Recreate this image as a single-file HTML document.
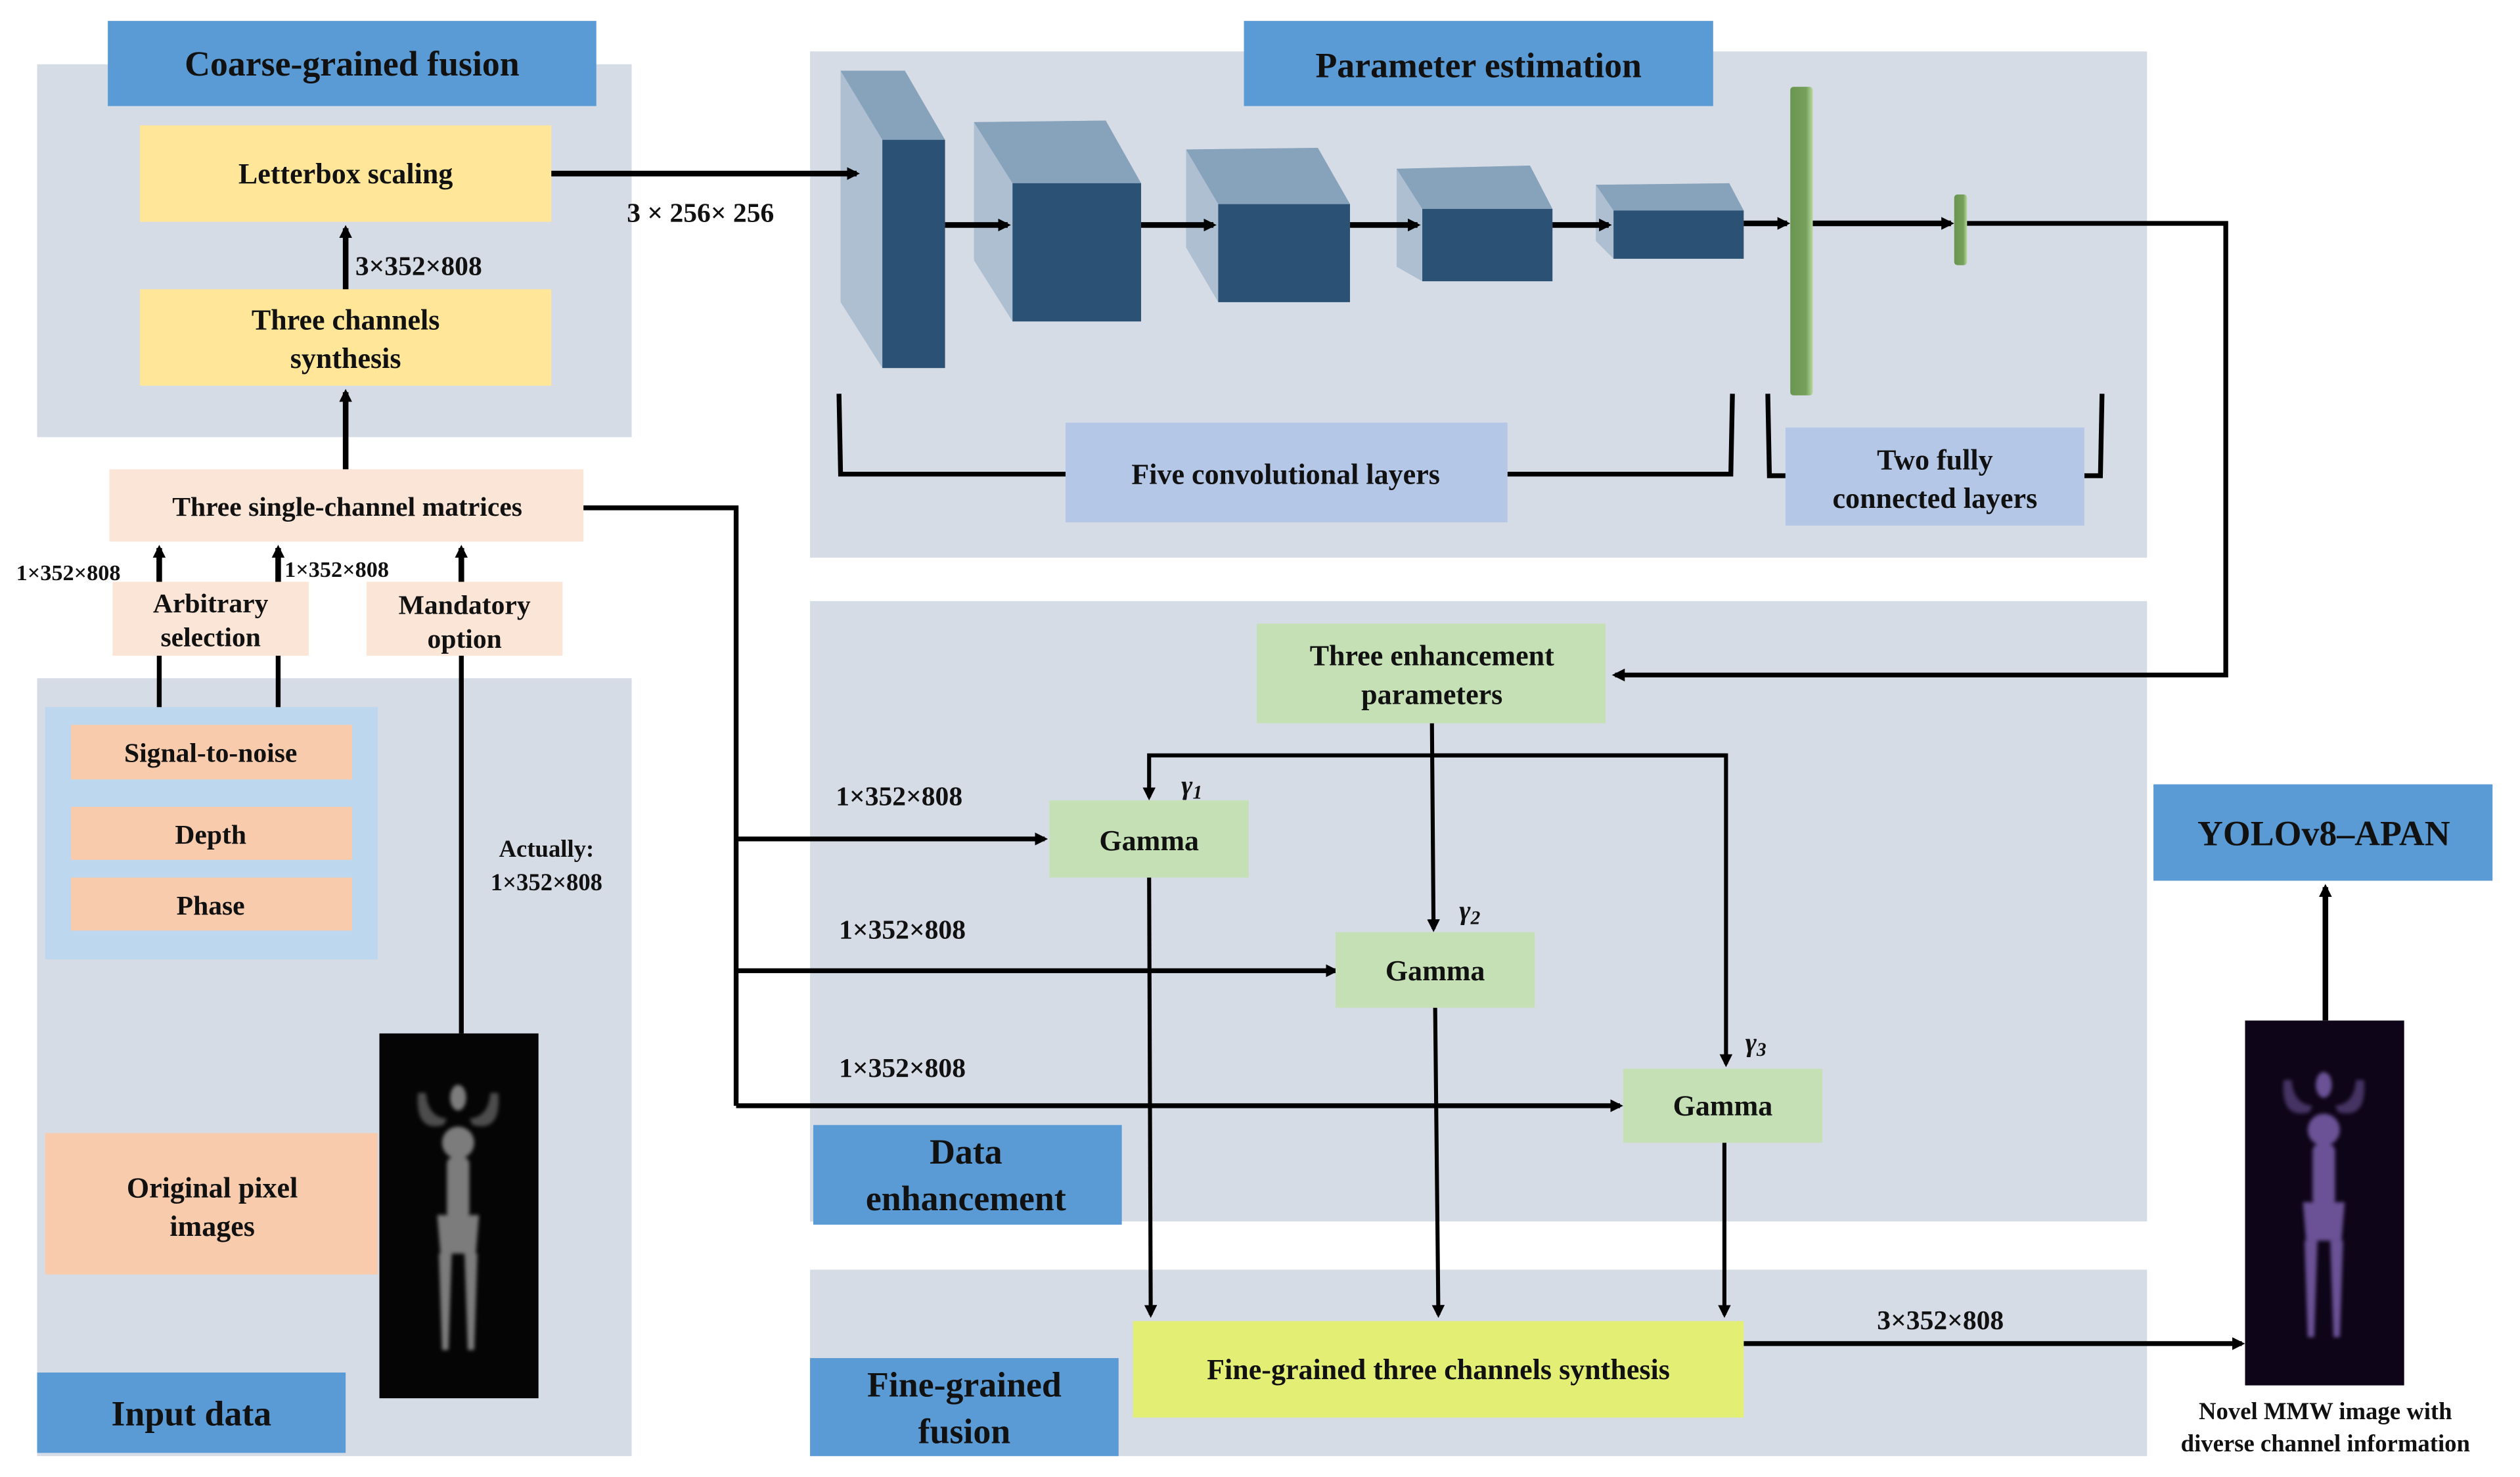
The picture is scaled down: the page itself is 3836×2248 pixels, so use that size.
<!DOCTYPE html>
<html><head><meta charset="utf-8"><style>
html,body{margin:0;padding:0;background:#fff;}
svg{display:block;}
text{font-family:"Liberation Serif",serif;font-weight:bold;fill:#111;}
</style></head><body>
<svg width="3836" height="2248" viewBox="0 0 1568 919" xmlns="http://www.w3.org/2000/svg">
<defs>
<marker id="a" markerWidth="8" markerHeight="8" refX="6" refY="4" orient="auto" markerUnits="userSpaceOnUse"><path d="M0,0 L8,4 L0,8 z" fill="#000"/></marker>
<linearGradient id="gb" x1="0" x2="1"><stop offset="0" stop-color="#6a9550"/><stop offset="0.7" stop-color="#76a05a"/><stop offset="1" stop-color="#b8d8a0"/></linearGradient>
<filter id="bl"><feGaussianBlur stdDeviation="1.2"/></filter>
</defs>
<rect width="1568" height="919" fill="#fff"/>
<!-- panels -->
<rect x="23" y="40" width="370" height="232" fill="#d6dce5"/>
<rect x="23" y="422" width="370" height="484" fill="#d6dce5"/>
<rect x="504" y="32" width="832" height="315" fill="#d6dce5"/>
<rect x="504" y="374" width="832" height="386" fill="#d6dce5"/>
<rect x="504" y="790" width="832" height="116" fill="#d6dce5"/>
<!-- headers -->
<rect x="67" y="13" width="304" height="53" fill="#5b9bd5"/>
<text x="219" y="47" font-size="22" text-anchor="middle">Coarse-grained fusion</text>
<rect x="774" y="13" width="292" height="53" fill="#5b9bd5"/>
<text x="920" y="48" font-size="22" text-anchor="middle">Parameter estimation</text>
<rect x="23" y="854" width="192" height="50" fill="#5b9bd5"/>
<text x="119" y="887" font-size="22" text-anchor="middle">Input data</text>
<rect x="506" y="700" width="192" height="62" fill="#5b9bd5"/>
<text x="601" y="724" font-size="22" text-anchor="middle">Data</text>
<text x="601" y="753" font-size="22" text-anchor="middle">enhancement</text>
<rect x="504" y="845" width="192" height="61" fill="#5b9bd5"/>
<text x="600" y="869" font-size="22" text-anchor="middle">Fine-grained</text>
<text x="600" y="898" font-size="22" text-anchor="middle">fusion</text>
<rect x="1340" y="488" width="211" height="60" fill="#5b9bd5"/>
<text x="1446" y="526" font-size="22" text-anchor="middle">YOLOv8–APAN</text>
<!-- coarse boxes -->
<rect x="87" y="78" width="256" height="60" fill="#ffe699"/>
<text x="215" y="114" font-size="18" text-anchor="middle">Letterbox scaling</text>
<rect x="87" y="180" width="256" height="60" fill="#ffe699"/>
<text x="215" y="205" font-size="18" text-anchor="middle">Three channels</text>
<text x="215" y="229" font-size="18" text-anchor="middle">synthesis</text>
<rect x="68" y="292" width="295" height="45" fill="#fbe5d6"/>
<text x="216" y="321" font-size="17" text-anchor="middle">Three single-channel matrices</text>
<rect x="70" y="362" width="122" height="46" fill="#fbe5d6"/>
<text x="131" y="381" font-size="17" text-anchor="middle">Arbitrary</text>
<text x="131" y="402" font-size="17" text-anchor="middle">selection</text>
<rect x="228" y="362" width="122" height="46" fill="#fbe5d6"/>
<text x="289" y="382" font-size="17" text-anchor="middle">Mandatory</text>
<text x="289" y="403" font-size="17" text-anchor="middle">option</text>
<rect x="28" y="440" width="207" height="157" fill="#bdd7ee"/>
<rect x="44" y="451" width="175" height="34" fill="#f8cbad"/>
<text x="131" y="474" font-size="17" text-anchor="middle">Signal-to-noise</text>
<rect x="44" y="502" width="175" height="33" fill="#f8cbad"/>
<text x="131" y="525" font-size="17" text-anchor="middle">Depth</text>
<rect x="44" y="546" width="175" height="33" fill="#f8cbad"/>
<text x="131" y="569" font-size="17" text-anchor="middle">Phase</text>
<rect x="28" y="705" width="207" height="88" fill="#f8cbad"/>
<text x="132" y="745" font-size="18" text-anchor="middle">Original pixel</text>
<text x="132" y="769" font-size="18" text-anchor="middle">images</text>
<!-- input figure -->
<rect x="236" y="643" width="99" height="227" fill="#050505"/>
<g fill="#9a9a9a" opacity="0.8" filter="url(#bl)">
<ellipse cx="285" cy="683" rx="5" ry="8"/>
<ellipse cx="285" cy="711" rx="10" ry="10"/>
<rect x="278" y="720" width="14" height="38" rx="4"/>
<path d="M272,756 L298,756 L296,780 L274,780 z"/>
<path d="M273,780 L281,780 L279,840 L275,840 z"/>
<path d="M289,780 L297,780 L295,840 L291,840 z"/>
<path d="M276,700 Q258,705 260,680 L265,680 Q266,695 278,696 z" opacity="0.6"/>
<path d="M294,700 Q312,705 310,680 L305,680 Q304,695 292,696 z" opacity="0.6"/>
</g>
<!-- output figure -->
<rect x="1397" y="635" width="99" height="227" fill="#0e0518"/>
<g fill="#8a6cc0" opacity="0.75" filter="url(#bl)">
<ellipse cx="1446" cy="675" rx="5" ry="8"/>
<ellipse cx="1446" cy="703" rx="10" ry="10"/>
<rect x="1439" y="712" width="14" height="38" rx="4"/>
<path d="M1433,748 L1459,748 L1457,772 L1435,772 z"/>
<path d="M1434,772 L1442,772 L1440,832 L1436,832 z"/>
<path d="M1450,772 L1458,772 L1456,832 L1452,832 z"/>
<path d="M1437,692 Q1419,697 1421,672 L1426,672 Q1427,687 1439,688 z" opacity="0.6"/>
<path d="M1455,692 Q1473,697 1471,672 L1466,672 Q1465,687 1453,688 z" opacity="0.6"/>
</g>
<text x="1447" y="883" font-size="15" text-anchor="middle">Novel MMW image with</text>
<text x="1447" y="903" font-size="15" text-anchor="middle">diverse channel information</text>
<!-- cubes -->
<g>
<path d="M523,44 L563,44 L588,87 L588,229 L549,229 L523,188 z" fill="#adbfd0"/>
<path d="M523,44 L563,44 L588,87 L549,87 z" fill="#87a2bb"/>
<rect x="549" y="87" width="39" height="142" fill="#2b5174"/>
<path d="M606,76 L688,75 L710,114 L710,200 L630,200 L606,162 z" fill="#adbfd0"/>
<path d="M606,76 L688,75 L710,114 L630,114 z" fill="#87a2bb"/>
<rect x="630" y="114" width="80" height="86" fill="#2b5174"/>
<path d="M738,93 L820,92 L840,127 L840,188 L758,188 L738,154 z" fill="#adbfd0"/>
<path d="M738,93 L820,92 L840,127 L758,127 z" fill="#87a2bb"/>
<rect x="758" y="127" width="82" height="61" fill="#2b5174"/>
<path d="M869,105 L952,103 L966,130 L966,175 L885,175 L869,166 z" fill="#adbfd0"/>
<path d="M869,105 L952,103 L966,130 L885,130 z" fill="#87a2bb"/>
<rect x="885" y="130" width="81" height="45" fill="#2b5174"/>
<path d="M993,115 L1076,114 L1085,131 L1085,161 L1004,161 L993,150 z" fill="#adbfd0"/>
<path d="M993,115 L1076,114 L1085,131 L1004,131 z" fill="#87a2bb"/>
<rect x="1004" y="131" width="81" height="30" fill="#2b5174"/>
<rect x="1114" y="54" width="14" height="192" rx="2" fill="url(#gb)"/>
<rect x="1216" y="121" width="8" height="44" rx="2" fill="url(#gb)"/>
</g>
<g stroke="#000" stroke-width="3.5" fill="none" marker-end="url(#a)">
<line x1="343" y1="108" x2="533" y2="108"/>
<line x1="588" y1="140" x2="627" y2="140"/>
<line x1="710" y1="140" x2="755" y2="140"/>
<line x1="840" y1="140" x2="882" y2="140"/>
<line x1="966" y1="140" x2="1001" y2="140"/>
<line x1="1085" y1="139" x2="1112" y2="139"/>
<line x1="1128" y1="139" x2="1214" y2="139"/>
<line x1="215" y1="180" x2="215" y2="142"/>
<line x1="215" y1="292" x2="215" y2="244"/>
<line x1="99" y1="362" x2="99" y2="341"/>
<line x1="173" y1="362" x2="173" y2="341"/>
<line x1="287" y1="362" x2="287" y2="341"/>
<line x1="1447" y1="635" x2="1447" y2="552"/>
</g>
<g stroke="#000" stroke-width="3" fill="none">
<line x1="99" y1="440" x2="99" y2="408"/>
<line x1="173" y1="440" x2="173" y2="408"/>
<line x1="287" y1="643" x2="287" y2="408"/>
<polyline points="1224,139 1385,139 1385,420 1005,420" marker-end="url(#a)"/>
<polyline points="363,316 458,316 458,688"/>
<line x1="458" y1="522" x2="650" y2="522" marker-end="url(#a)"/>
<line x1="458" y1="604" x2="831" y2="604" marker-end="url(#a)"/>
<line x1="458" y1="688" x2="1008" y2="688" marker-end="url(#a)"/>
<polyline points="522,245 523,295 663,295"/>
<polyline points="938,295 1077,295 1078,245"/>
<polyline points="1100,245 1101,296 1111,296"/>
<polyline points="1297,296 1307,296 1308,245"/>
<line x1="1085" y1="836" x2="1395" y2="836" marker-end="url(#a)"/>
</g>
<g stroke="#000" stroke-width="2.5" fill="none" marker-end="url(#a)">
<line x1="891" y1="450" x2="892" y2="578"/>
<polyline points="1074,470 715,470 715,496"/>
<polyline points="891,470 1074,470 1074,662"/>
<line x1="715" y1="546" x2="716" y2="818"/>
<line x1="893" y1="627" x2="895" y2="818"/>
<line x1="1073" y1="711" x2="1073" y2="818"/>
</g>
<rect x="663" y="263" width="275" height="62" fill="#b4c7e7"/>
<text x="800" y="301" font-size="18" text-anchor="middle">Five convolutional layers</text>
<rect x="1111" y="266" width="186" height="61" fill="#b4c7e7"/>
<text x="1204" y="292" font-size="18" text-anchor="middle">Two fully</text>
<text x="1204" y="316" font-size="18" text-anchor="middle">connected layers</text>
<rect x="782" y="388" width="217" height="62" fill="#c5e0b4"/>
<text x="891" y="414" font-size="18" text-anchor="middle">Three enhancement</text>
<text x="891" y="438" font-size="18" text-anchor="middle">parameters</text>
<rect x="653" y="498" width="124" height="48" fill="#c5e0b4"/>
<text x="715" y="529" font-size="18" text-anchor="middle">Gamma</text>
<rect x="831" y="580" width="124" height="47" fill="#c5e0b4"/>
<text x="893" y="610" font-size="18" text-anchor="middle">Gamma</text>
<rect x="1010" y="665" width="124" height="46" fill="#c5e0b4"/>
<text x="1072" y="694" font-size="18" text-anchor="middle">Gamma</text>
<rect x="705" y="822" width="380" height="60" fill="#e2ef74"/>
<text x="895" y="858" font-size="18" text-anchor="middle">Fine-grained three channels synthesis</text>
<!-- labels -->
<g font-size="17">
<text x="221" y="171" font-weight="normal">3×352×808</text>
<text x="390" y="138">3 × 256× 256</text>
<text x="10" y="361" font-size="14" font-weight="normal">1×352×808</text>
<text x="177" y="359" font-size="14" font-weight="normal">1×352×808</text>
<text x="340" y="533" text-anchor="middle" font-size="15">Actually:</text>
<text x="340" y="554" text-anchor="middle" font-size="15">1×352×808</text>
<text x="520" y="501" font-weight="normal">1×352×808</text>
<text x="522" y="584" font-weight="normal">1×352×808</text>
<text x="522" y="670" font-weight="normal">1×352×808</text>
<text x="1168" y="827" font-weight="normal">3×352×808</text>
<text x="735" y="494" font-style="italic" font-weight="normal">γ<tspan font-size="12" dy="3">1</tspan></text>
<text x="908" y="572" font-style="italic" font-weight="normal">γ<tspan font-size="12" dy="3">2</tspan></text>
<text x="1086" y="654" font-style="italic" font-weight="normal">γ<tspan font-size="12" dy="3">3</tspan></text>
</g>
</svg>
</body></html>
